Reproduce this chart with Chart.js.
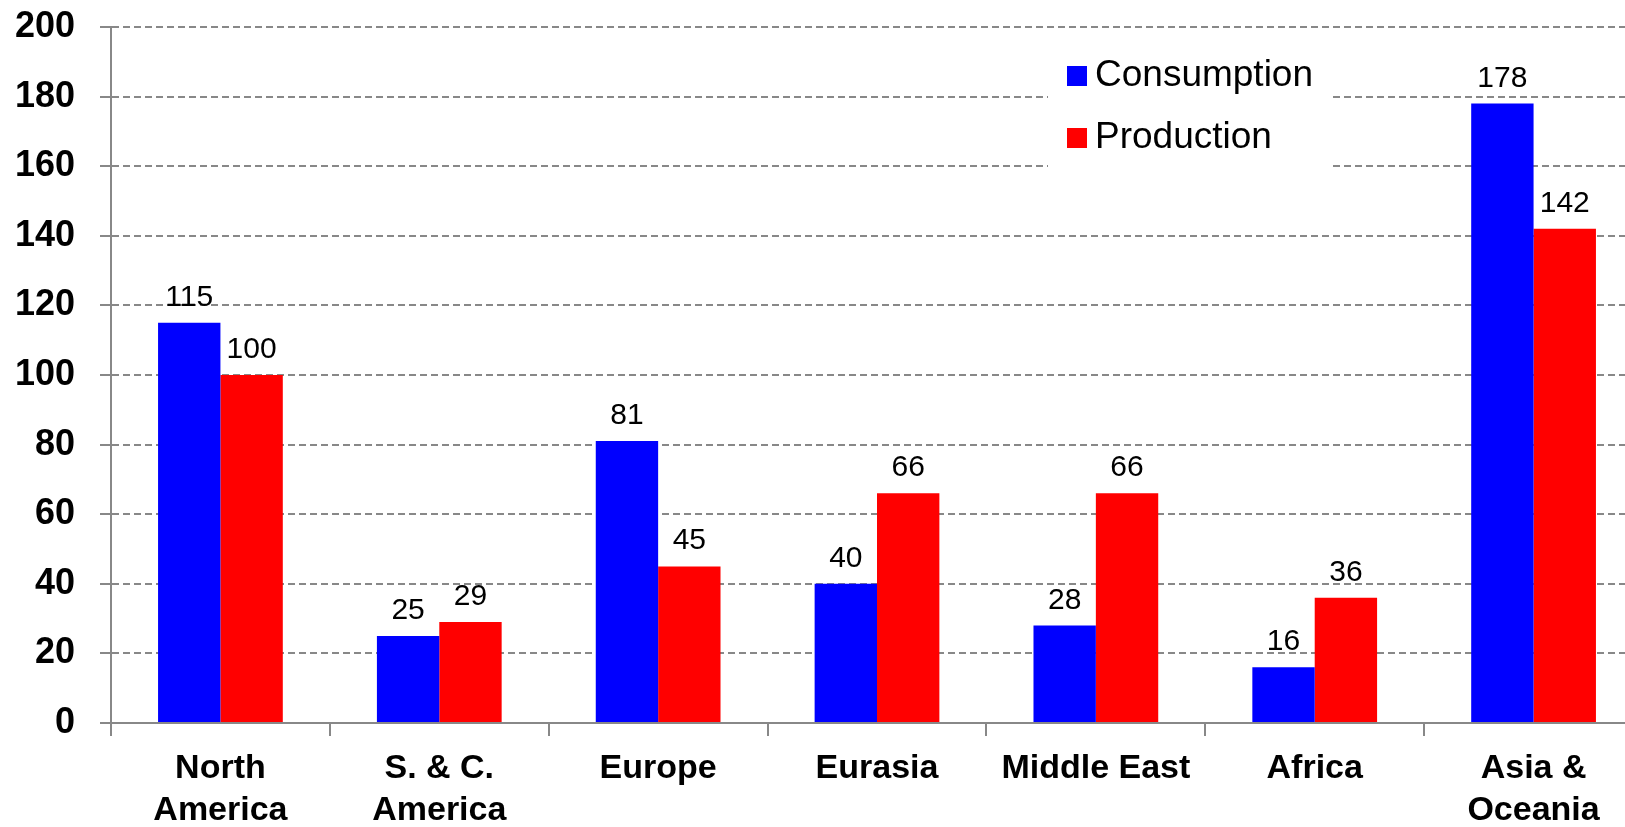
<!DOCTYPE html>
<html>
<head>
<meta charset="utf-8">
<script src="https://cdn.jsdelivr.net/npm/chart.js@4/dist/chart.umd.min.js"></script>
<style>
    html, body { margin: 0; padding: 0; overflow: hidden; background: #fff; }
</style>
</head>
<body>
<canvas id="myChart" width="1660" height="827"></canvas>
<script>
// regions (two-line labels), values in the same order
var regions = [['North', 'America'], ['S. & C.', 'America'], ['Europe'], ['Eurasia'], ['Middle East'], ['Africa'], ['Asia &', 'Oceania']];
var consumption = [115, 25, 81, 40, 28, 16, 178];
var production = [100, 29, 45, 66, 66, 36, 142];
var yTicks = [0, 20, 40, 60, 80, 100, 120, 140, 160, 180, 200];

var FONT = '"Liberation Sans", Arial, sans-serif';
var GRAY = '#888888';

// numbers printed above each bar
var barValues = {
    id: 'barValues',
    afterDatasetsDraw: function (chart) {
        var ctx = chart.ctx;
        ctx.save();
        ctx.font = '30px ' + FONT;
        ctx.fillStyle = '#000';
        ctx.textAlign = 'center';
        ctx.textBaseline = 'alphabetic';
        chart.data.datasets.forEach(function (ds, i) {
            chart.getDatasetMeta(i).data.forEach(function (bar, j) {
                ctx.fillText(ds.data[j], bar.x, bar.y - 17);
            });
        });
        ctx.restore();
    }
};

// legend sitting in a white box over the grid, top right
var boxLegend = {
    id: 'boxLegend',
    beforeDatasetsDraw: function (chart) {
        var ctx = chart.ctx;
        ctx.save();
        ctx.fillStyle = '#fff';
        ctx.fillRect(1048, 40, 282, 135);
        ctx.font = '37px ' + FONT;
        ctx.textBaseline = 'middle';
        chart.data.datasets.forEach(function (ds, i) {
            var y = 76 + i * 62;
            ctx.fillStyle = ds.backgroundColor;
            ctx.fillRect(1067, y - 10, 20, 20);
            ctx.fillStyle = '#000';
            ctx.fillText(ds.label, 1095, y);
        });
        ctx.restore();
    }
};

var ctx = document.getElementById('myChart').getContext('2d');
var chart = new Chart(ctx, {
    type: 'bar',
    data: {
        labels: regions,
        datasets: [{
            label: 'Consumption',
            backgroundColor: '#0000ff',
            data: consumption
        }, {
            label: 'Production',
            backgroundColor: '#ff0000',
            data: production
        }]
    },
    options: {
        responsive: false,
        animation: false,
        devicePixelRatio: 1,
        layout: { padding: { top: 27, right: 17, left: 0, bottom: 0 } },
        datasets: {
            bar: { barPercentage: 1, categoryPercentage: 0.57 }
        },
        plugins: {
            legend: { display: false },
            tooltip: { enabled: false }
        },
        scales: {
            x: {
                grid: { offset: true, drawOnChartArea: false, tickLength: 13, color: GRAY, lineWidth: 2 },
                border: { color: GRAY, width: 2 },
                ticks: {
                    color: '#000',
                    padding: 12,
                    maxRotation: 0,
                    autoSkip: false,
                    font: { family: FONT, size: 34, weight: 'bold', lineHeight: 1.23 }
                },
                afterFit: function (scale) { scale.height = 104; }
            },
            y: {
                min: 0,
                max: 200,
                afterBuildTicks: function (scale) {
                    scale.ticks = yTicks.map(function (v) { return { value: v }; });
                },
                ticks: {
                    color: '#000',
                    padding: 25,
                    font: { family: FONT, size: 36, weight: 'bold' }
                },
                grid: { color: GRAY, lineWidth: 2, tickLength: 11, tickColor: GRAY, tickBorderDash: [] },
                border: { color: GRAY, width: 2, dash: [7, 4] },
                afterFit: function (scale) {
                    scale.width = 111;
                    // top label may overhang; the layout padding handles it
                    scale.paddingTop = 0;
                    scale.paddingBottom = 0;
                }
            }
        }
    },
    plugins: [boxLegend, barValues]
});
</script>
</body>
</html>
